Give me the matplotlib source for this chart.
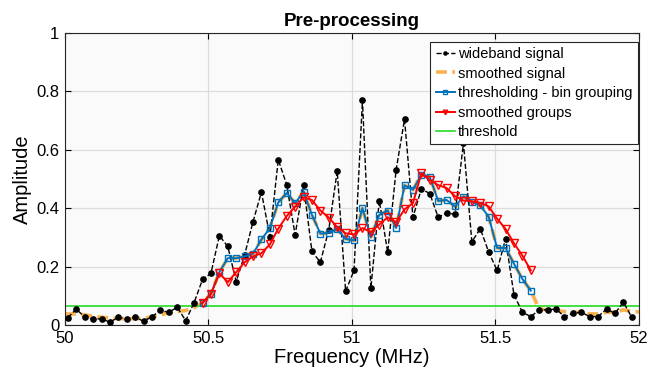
import numpy as np
import matplotlib
matplotlib.use("Agg")
import matplotlib.pyplot as plt

plt.rcParams["font.family"] = ["Liberation Sans", "DejaVu Sans"]

# frequency bins (MHz)
freq = np.linspace(50.01, 51.975, 68)

wideband = [0.025, 0.055, 0.027, 0.021, 0.021, 0.010, 0.027, 0.021, 0.027, 0.013,
            0.029, 0.050, 0.044, 0.061, 0.015, 0.077, 0.156, 0.177, 0.306, 0.269,
            0.149, 0.240, 0.354, 0.455, 0.303, 0.566, 0.480, 0.309, 0.478, 0.252,
            0.215, 0.326, 0.527, 0.116, 0.187, 0.769, 0.126, 0.426, 0.249, 0.531,
            0.704, 0.369, 0.466, 0.450, 0.369, 0.383, 0.380, 0.622, 0.285, 0.330,
            0.250, 0.187, 0.295, 0.104, 0.044, 0.029, 0.052, 0.052, 0.055, 0.029,
            0.040, 0.044, 0.029, 0.029, 0.055, 0.040, 0.078, 0.027]

# smoothed signal outside the detected band
smooth_left = [0.038, 0.038, 0.038, 0.035, 0.030, 0.027, 0.024, 0.022, 0.022, 0.022,
               0.023, 0.028, 0.035, 0.042, 0.046, 0.050, 0.060]
smooth_right = [0.055, 0.052, 0.050, 0.046, 0.044, 0.044, 0.038, 0.038, 0.044, 0.044,
                0.052, 0.047, 0.045]

# thresholding - bin grouping (bins 16..55)
grouped = [0.076, 0.107, 0.181, 0.229, 0.229, 0.235, 0.244, 0.293, 0.332, 0.420,
           0.452, 0.417, 0.456, 0.377, 0.313, 0.316, 0.328, 0.295, 0.290, 0.400,
           0.301, 0.377, 0.392, 0.332, 0.478, 0.463, 0.515, 0.507, 0.425, 0.428,
           0.406, 0.440, 0.422, 0.410, 0.370, 0.264, 0.264, 0.210, 0.158, 0.118]

smoothed_groups = [0.076, 0.107, 0.177, 0.147, 0.181, 0.215, 0.235, 0.246, 0.276, 0.330,
                   0.373, 0.405, 0.437, 0.428, 0.392, 0.368, 0.335, 0.314, 0.310, 0.332,
                   0.318, 0.344, 0.369, 0.352, 0.396, 0.417, 0.519, 0.496, 0.479, 0.469,
                   0.441, 0.426, 0.424, 0.418, 0.406, 0.364, 0.329, 0.280, 0.238, 0.187]

threshold = 0.064
band_start, band_end = 16, 56

freq_band = freq[band_start:band_end]
freq_smooth = np.concatenate([[50.0], freq[:band_start], freq_band, freq[band_end:], [52.0]])
smoothed = np.concatenate([smooth_left, grouped, smooth_right])

fig = plt.figure(figsize=(6.5, 3.82), dpi=100)
ax = fig.add_axes([0.1, 0.149, 0.883, 0.765])
ax.set_facecolor("#FAFAFA")

ax.plot(freq, wideband, "--", color="black", lw=1.0, marker="o", ms=3.8,
        label="wideband signal", zorder=3)
ax.plot(freq_smooth, smoothed, "--", color="#F9B04E", lw=2.6, dashes=(3, 1.5),
        label="smoothed signal", zorder=2)
ax.plot(freq_band, grouped, "-", color="#0072BD", lw=1.4, marker="s", ms=4,
        mfc="none", mew=1.0, label="thresholding - bin grouping", zorder=4)
ax.plot(freq_band, smoothed_groups, "-", color="red", lw=1.4, marker="v", ms=5.5,
        mfc="none", mew=1.0, label="smoothed groups", zorder=5)
ax.axhline(threshold, color="#22DD22", lw=1.2, label="threshold", zorder=2)

ax.set_xlim(50, 52)
ax.set_ylim(0, 1)
ax.set_xticks([50, 50.5, 51, 51.5, 52])
ax.set_xticklabels(["50", "50.5", "51", "51.5", "52"])
ax.set_yticks([0, 0.2, 0.4, 0.6, 0.8, 1])
ax.set_yticklabels(["0", "0.2", "0.4", "0.6", "0.8", "1"])
ax.tick_params(direction="in", top=True, right=True, labelsize=12, length=4,
               width=0.8, pad=4)
ax.grid(True, color="#DCDCDC", lw=0.9)
ax.set_axisbelow(True)
for s in ax.spines.values():
    s.set_linewidth(0.8)
    s.set_color("#262626")

ax.set_title("Pre-processing", fontsize=13.5, fontweight="bold", pad=5)
ax.set_xlabel("Frequency (MHz)", fontsize=14.5, labelpad=2)
ax.set_ylabel("Amplitude", fontsize=14.5, labelpad=3)

leg = ax.legend(loc="upper right", bbox_to_anchor=(0.998, 0.969), borderaxespad=0,
                fontsize=10.5, handlelength=1.3, handletextpad=0.25,
                labelspacing=0.38, borderpad=0.35, fancybox=False,
                framealpha=1, edgecolor="#262626", markerscale=0.6)
leg.get_frame().set_linewidth(0.8)

fig.savefig("out.png", dpi=100)
